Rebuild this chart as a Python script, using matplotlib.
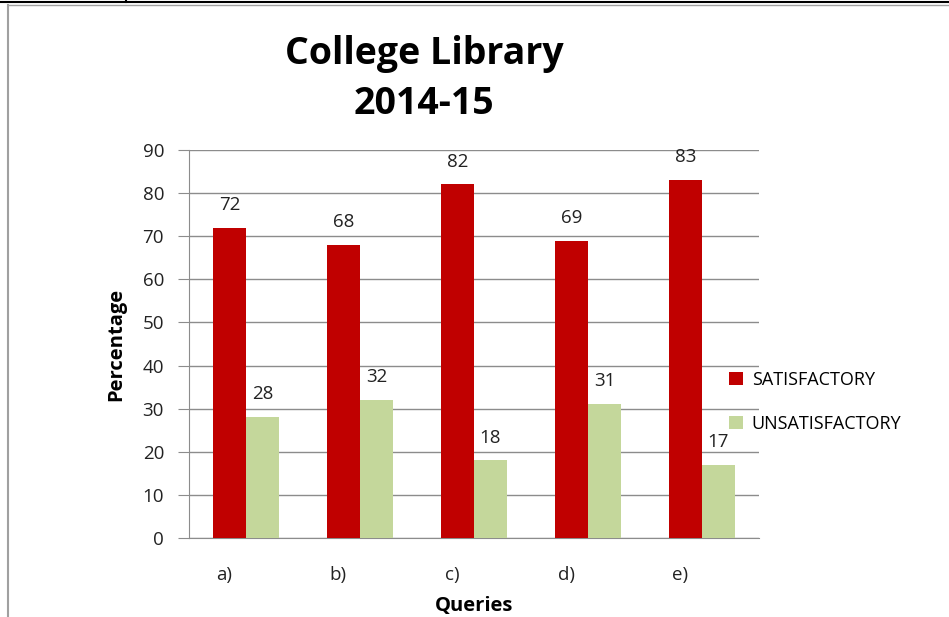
import matplotlib.pyplot as plt
from matplotlib.lines import Line2D
import numpy as np

# data
queries = ["a)", "b)", "c)", "d)", "e)"]
satisfactory = [72, 68, 82, 69, 83]
unsatisfactory = [28, 32, 18, 31, 17]
yticks = [0, 10, 20, 30, 40, 50, 60, 70, 80, 90]

red = "#C00000"
green = "#C4D79B"
grid_col = "#8C8C8C"
txt = "#222222"

plt.rcParams["font.family"] = ["Open Sans", "DejaVu Sans"]

fig = plt.figure(figsize=(9.49, 6.17), dpi=100)
ax = fig.add_axes([189 / 949, 1 - 538 / 617, 570 / 949, 388 / 617])

x = np.arange(len(queries))
w = 0.29
b1 = ax.bar(x - w / 2, satisfactory, w, color=red, label="SATISFACTORY", zorder=3)
b2 = ax.bar(x + w / 2, unsatisfactory, w, color=green, label="UNSATISFACTORY", zorder=3)

for bars, vals in [(b1, satisfactory), (b2, unsatisfactory)]:
    for bar, v in zip(bars, vals):
        ax.annotate(str(v), (bar.get_x() + bar.get_width() / 2, v),
                    xytext=(0, 10), textcoords="offset points",
                    ha="center", va="bottom", fontsize=13.5, color=txt)

ax.set_xlim(-0.5, len(queries) - 0.5)
ax.set_ylim(0, 90)
ax.set_yticks(yticks)
ax.yaxis.grid(True, color=grid_col, linewidth=1, zorder=0)
ax.set_axisbelow(True)

# excel draws the category labels a bit left of the group centre
ax.set_xticks(x - 0.19)
ax.set_xticklabels(queries, fontsize=13.5, color=txt)
ax.tick_params(axis="x", length=0, pad=20)
ax.tick_params(axis="y", length=8, color=grid_col, labelsize=13.5,
               labelcolor=txt, pad=10)

for s in ["top", "right"]:
    ax.spines[s].set_visible(False)
ax.spines["left"].set_color(grid_col)
ax.spines["bottom"].set_color(grid_col)

ax.set_ylabel("Percentage", fontsize=14.5, fontweight="bold", labelpad=12)
ax.set_xlabel("Queries", fontsize=14.5, fontweight="bold", labelpad=9)

fig.text(424 / 949, 1 - 54 / 617, "College Library", ha="center", va="center",
         fontsize=27, fontweight="bold")
fig.text(424 / 949, 1 - 104 / 617, "2014-15", ha="center", va="center",
         fontsize=27, fontweight="bold")

ax.legend(loc="center left", bbox_to_anchor=(722 / 949, 1 - 402 / 617),
          bbox_transform=fig.transFigure, frameon=False, fontsize=13,
          handlelength=0.75, handleheight=0.75, handletextpad=0.5,
          labelspacing=1.45, borderaxespad=0)

# page borders around the chart
fig.add_artist(Line2D([0, 1], [1 - 2 / 617, 1 - 2 / 617], color="black", lw=1.5))
fig.add_artist(Line2D([126 / 949, 126 / 949], [1 - 2 / 617, 1], color="black", lw=1.5))
fig.add_artist(Line2D([8 / 949, 1], [1 - 5 / 617, 1 - 5 / 617], color="#A0A0A0", lw=1))
fig.add_artist(Line2D([8 / 949, 8 / 949], [0, 1 - 5 / 617], color="#A0A0A0", lw=1.5))

fig.savefig("out.png", dpi=100)
